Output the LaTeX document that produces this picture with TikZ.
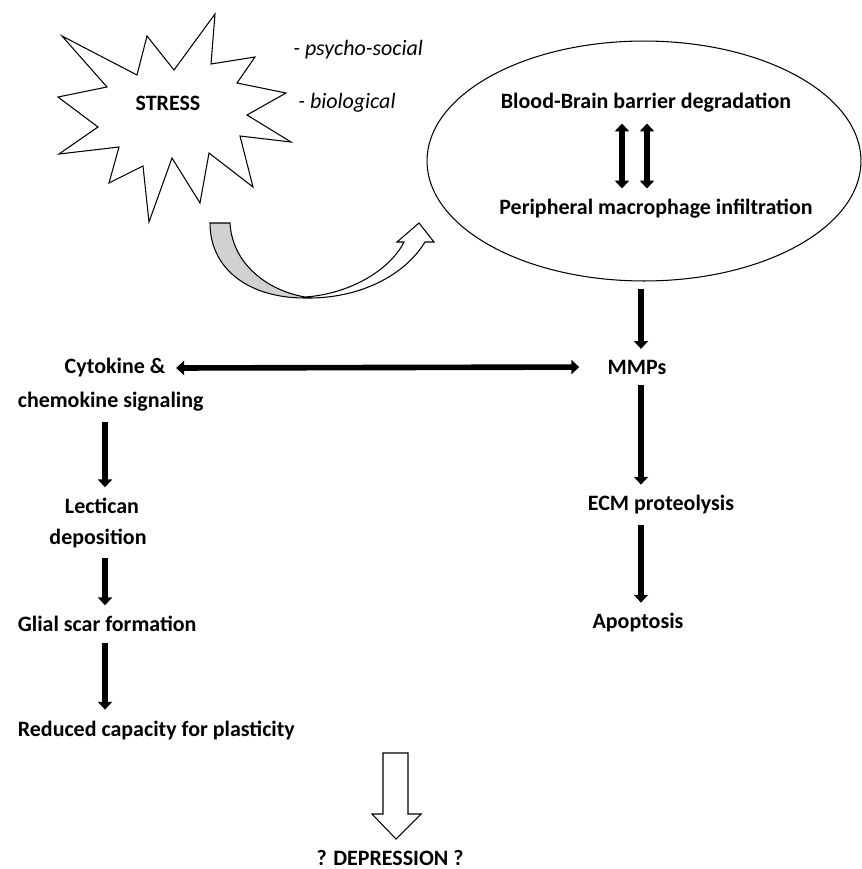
\documentclass[tikz,border=0pt]{standalone}
\usepackage{fontspec}
\setmainfont{Carlito}
\usetikzlibrary{arrows.meta, shapes.geometric}

\begin{document}
\begin{tikzpicture}[
    x=0.02cm, y=-0.02cm,
    txt/.style={
        font=\fontsize{12.5}{15}\selectfont\bfseries,
        inner sep=2pt
    },
    itx/.style={
        font=\fontsize{12.5}{15}\selectfont\itshape,
        inner sep=0pt,
        anchor=west
    },
    fat/.style={
        line width=3.2pt,
        -{Triangle[length=4.5pt,width=8pt]},
        shorten <=4pt,
        shorten >=4pt
    },
    fatboth/.style={
        fat,
        {Triangle[length=4.5pt,width=8pt]}-{Triangle[length=4.5pt,width=8pt]}
    },
    outl/.style={line width=0.6pt}
]
\useasboundingbox (0,0) rectangle (862,869);

\draw[outl] (215,14) -- (211,64) -- (255,57) -- (237,83) -- (286,93) -- (247,115)
    -- (291,142) -- (240,136) -- (253,187) -- (209,153) -- (200,203) -- (172,158)
    -- (149,222) -- (143,166) -- (109,183) -- (119,147) -- (59,154) -- (98,127)
    -- (58,97) -- (107,87) -- (62,36) -- (137,75) -- (147,36) -- (174,70) -- cycle;
\node[txt] (stress) at (168,103) {STRESS};
\node[itx] (psy) at (293,50) {- psycho-social};
\node[itx] (bio) at (298,103) {- biological};

\node[draw, outl, ellipse, minimum width=8.68cm, minimum height=4.8cm] (ring) at (644,161) {};
\node[txt] (bbb) at (646,103) {Blood-Brain barrier degradation};
\node[txt] (pmi) at (656,209) {Peripheral macrophage infiltration};

\fill[black!18] (210,223) -- (230,223) .. controls (232,262) and (265,290) .. (305,297)
    .. controls (250,298) and (210,270) .. (210,223) -- cycle;
\draw[outl] (210,223) -- (230,223) .. controls (232,262) and (265,290) .. (305,297)
    .. controls (350,294) and (390,270) .. (404,242) -- (397,242) -- (419,223)
    -- (434,242) -- (425,242) .. controls (405,275) and (360,299) .. (305,298)
    .. controls (250,298) and (210,270) .. (210,223) -- cycle;

\node[txt] (cyto) at (115,368) {Cytokine \&};
\node[txt, anchor=west] (chemo) at (14,402) {chemokine signaling};
\node[txt] (mmp) at (637,367) {MMPs};
\node[txt] (lect) at (102,506) {Lectican};
\node[txt] (depo) at (98,538) {deposition};
\node[txt, anchor=west] (glial) at (14,624) {Glial scar formation};
\node[txt, anchor=west] (reduced) at (14,730) {Reduced capacity for plasticity};
\node[txt] (ecm) at (661,505) {ECM proteolysis};
\node[txt] (apop) at (638,623) {Apoptosis};
\node[txt] (dep) at (390,858) {? DEPRESSION ?};

\coordinate (lx) at (105,0);
\coordinate (rx) at (641,0);
\coordinate (dl) at (622,0);
\coordinate (dr) at (647,0);

\draw[fatboth] (bbb.south -| dl) -- (pmi.north -| dl);
\draw[fatboth] (bbb.south -| dr) -- (pmi.north -| dr);

\draw[fat] (ring.south -| rx) -- (mmp.north -| rx);
\draw[fat] (mmp.south -| rx) -- (ecm.north -| rx);
\draw[fat] (ecm.south -| rx) -- (apop.north -| rx);

\draw[fatboth, shorten >=14pt] (cyto.east) -- (mmp.west);

\draw[fat] (chemo.south -| lx) -- (lect.north -| lx);
\draw[fat] (depo.south -| lx) -- (glial.north -| lx);
\draw[fat] (glial.south -| lx) -- (reduced.north -| lx);

\draw[outl] (383,753) -- (408,753) -- (408,814) -- (421,814) -- (396,839)
    -- (372,814) -- (383,814) -- cycle;

\end{tikzpicture}
\end{document}
